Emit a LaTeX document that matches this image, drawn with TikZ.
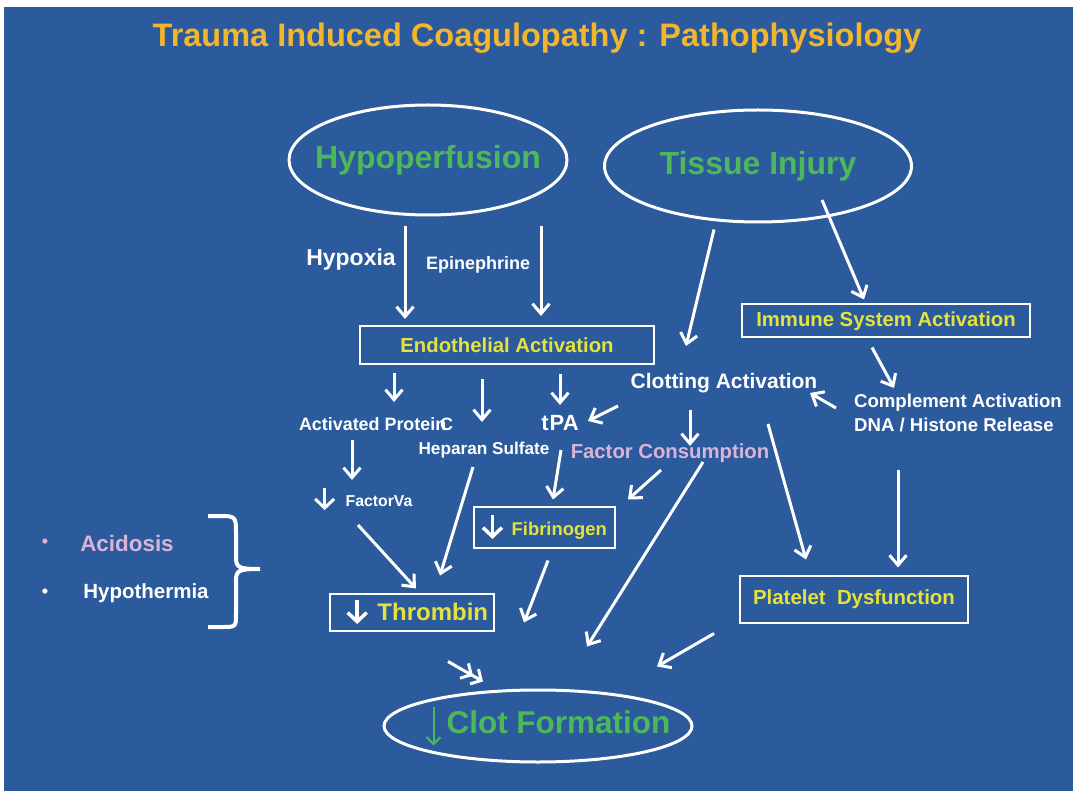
\documentclass[tikz,border=0pt]{standalone}
\usepackage{fontspec}
\setmainfont{Liberation Sans}
\usetikzlibrary{shapes.geometric,arrows.meta,calc}

\definecolor{slideblue}{HTML}{2B5B9D}
\definecolor{titleorange}{HTML}{F4B52E}
\definecolor{labyellow}{HTML}{E6E23C}
\definecolor{oxgreen}{HTML}{4DB85A}
\definecolor{softpink}{HTML}{D9B4D8}

\newcommand{\fsz}[1]{\fontsize{#1}{#1}\selectfont}
% small thick arrow used inside labels
\newcommand{\dnarr}[3]{\tikz[baseline=0pt,x=1pt,y=1pt]\draw[#1,line width=#3,-{Straight Barb[length=9pt,width=19pt]}] (0,#2) -- (0,-4);}

\begin{document}
\begin{tikzpicture}[x=1pt,y=-1pt,
  arr/.style={white,line width=3pt,-{Straight Barb[length=10pt,width=17pt]}},
  dblarr/.style={white,line width=3pt,-{Straight Barb[length=8pt,width=17pt]Straight Barb[length=8pt,width=17pt]}},
  box/.style={draw=white,line width=2pt,inner sep=0pt},
  oval/.style={ellipse,draw=white,line width=3pt,inner xsep=-40pt,inner ysep=-10pt},
  lbl/.style={text=white,font=\bfseries\fsz{17},inner sep=1pt,align=left}]

\fill[slideblue] (4,7) rectangle (1073,791);
\useasboundingbox (0,0) rectangle (1073,791);

\node[text=titleorange,font=\bfseries\fsz{32.5}] (title) at (537,38) {Trauma Induced Coagulopathy : Pathophysiology};

% causes
\node[oval,minimum width=278pt,minimum height=110pt,text=oxgreen,font=\bfseries\fsz{32}] (hypo) at (428,160) {Hypoperfusion};
\node[oval,minimum width=307pt,minimum height=112pt,text=oxgreen,font=\bfseries\fsz{32}] (tissue) at (758,166) {Tissue Injury};

\node[lbl,font=\bfseries\fsz{23}] (hypoxia) at (351,260) {Hypoxia};
\node[lbl,font=\bfseries\fsz{18}] (epi) at (478,265) {Epinephrine};

\node[box,minimum width=294pt,minimum height=38pt,text=labyellow,font=\bfseries\fsz{20.3}] (endo) at (507,345) {Endothelial Activation};
\node[box,minimum width=288pt,minimum height=33pt,text=labyellow,font=\bfseries\fsz{20.3}] (immune) at (886,321) {Immune System Activation};

\node[lbl,font=\bfseries\fsz{21}] (clotact) at (724,383) {Clotting Activation};
\node[lbl,font=\bfseries\fsz{18.6}] (compl) at (958,413) {Complement Activation\\[5pt]DNA / Histone Release};

\node[lbl,font=\bfseries\fsz{17.9}] (apc) at (376,424) {Activated Protein\hspace{-0.35em}C};
\node[lbl,font=\bfseries\fsz{22}] (tpa) at (560,423) {t\hspace{1pt}PA};
\node[lbl,font=\bfseries\fsz{17.2}] (heparan) at (484,450) {Heparan Sulfate};
\node[lbl,text=softpink,font=\bfseries\fsz{20.3}] (factcons) at (670,453) {Factor Consumption};
\node[lbl,font=\bfseries\fsz{15.8}] (fva) at (363,499) {\dnarr{white}{18}{3pt}\hspace{10pt}FactorVa};

\node[box,minimum width=141pt,minimum height=41pt,text=labyellow,font=\bfseries\fsz{18.4}] (fib) at (544,527) {\dnarr{white}{20}{3.5pt}\hspace{8pt}Fibrinogen};
\node[box,minimum width=164pt,minimum height=37pt,text=labyellow,font=\bfseries\fsz{24}] (thrombin) at (412,612) {\dnarr{white}{20}{3.5pt}\hspace{9pt}Thrombin\hspace*{-10pt}};
\node[box,minimum width=228pt,minimum height=47pt,text=labyellow,font=\bfseries\fsz{20.4}] (platelet) at (854,599) {Platelet\ \ Dysfunction};

\node[oval,minimum width=308pt,minimum height=72pt,text=oxgreen,font=\bfseries\fsz{31.5}] (clot) at (538,726) {\raisebox{-4pt}{\tikz[baseline=0pt,x=1pt,y=1pt]\draw[oxgreen,line width=2pt,-{Straight Barb[length=7pt,width=14pt]}] (0,27) -- (0,-12);\hspace{5pt}Clot Formation}\hspace*{-20pt}};

% acidosis / hypothermia
\node[text=softpink,font=\bfseries\fsz{18}] (bul1) at (45,543) {•};
\node[text=softpink,font=\bfseries\fsz{22.4}] (acid) at (127,543) {Acidosis};
\node[text=white,font=\bfseries\fsz{18}] (bul2) at (45,593) {•};
\node[text=white,font=\bfseries\fsz{20.5}] (hypoth) at (146,593) {Hypothermia};
\draw[white,line width=4pt] (208,516) -- (224,516) .. controls (236,516) and (236,520) .. (236,532)
  -- (236,558) .. controls (236,568) and (240,569) .. (260,569)
  (260,569) .. controls (240,569) and (236,570) .. (236,580)
  -- (236,614) .. controls (236,626) and (236,627) .. (224,627) -- (208,627);

% connectors
\draw[arr] ($(hypo.south)+(-23,10)$) -- ($(endo.north)+(-102,-6)$);
\draw[arr] ($(hypo.south)+(113,10)$) -- ($(endo.north)+(34,-9)$);
\draw[arr] ($(tissue.south)+(-44,6)$) -- ($(clotact)+(-38,-37)$);
\draw[arr] ($(tissue)+(64,34)$) -- ($(immune.north)+(-22,-4)$);
\draw[arr] ($(immune.south)+(-14,9)$) -- ($(compl)+(-64,-25)$);
\draw[arr] ($(compl)+(-122,-5)$) -- ($(clotact)+(86,10)$);
\draw[arr] ($(endo.south)+(-113,8)$) -- ($(apc)+(18,-22)$);
\draw[arr] ($(endo.south)+(-25,14)$) -- ($(heparan)+(-2,-28)$);
\draw[arr] ($(endo.south)+(53,9)$) -- ($(tpa)+(0,-18)$);
\draw[arr] ($(clotact)+(-106,23)$) -- ($(tpa)+(28,-2)$);
\draw[arr] ($(clotact)+(-34,27)$) -- ($(factcons)+(20,-7)$);
\draw[arr] ($(apc)+(-24,16)$) -- ($(fva)+(-11,-19)$);
\draw[arr] ($(fva)+(-5,26)$) -- ($(thrombin.north)+(4,-4)$);
\draw[arr] ($(heparan)+(-11,17)$) -- ($(thrombin.north)+(28,-17)$);
\draw[arr] ($(tpa)+(1,27)$) -- ($(fib.north)+(9,-6)$);
\draw[arr] ($(factcons)+(-9,17)$) -- ($(fib.north)+(84,-6)$);
\draw[arr] ($(fib.south)+(4,12)$) -- ($(clot.north)+(-14,-66)$);
\draw[arr] ($(factcons)+(33,9)$) -- ($(clot.north)+(49,-42)$);
\draw[arr] ($(clotact)+(44,41)$) -- ($(platelet.north)+(-48,-15)$);
\draw[arr] ($(compl)+(-60,57)$) -- ($(platelet.north)+(44,-7)$);
\draw[arr] ($(platelet.south)+(-140,10)$) -- ($(clot.north)+(119,-22)$);
\draw[dblarr] ($(thrombin.south)+(36,30)$) -- ($(clot.north)+(-55,-7)$);
\end{tikzpicture}
\end{document}
